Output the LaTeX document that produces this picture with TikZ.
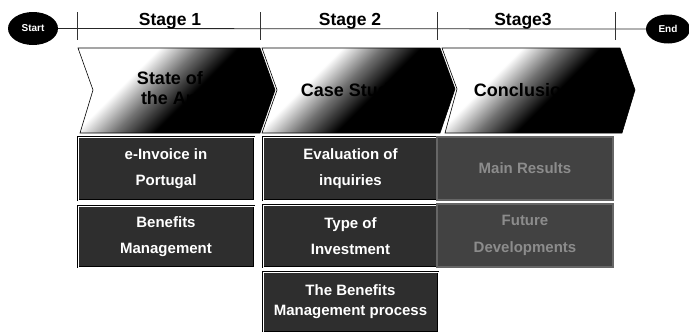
\documentclass[tikz,border=0pt]{standalone}
\usepackage{fontspec}
\setmainfont{Liberation Sans}
\usetikzlibrary{shapes.geometric}
\pgfdeclareverticalshading{chevshade}{100bp}{color(0bp)=(black); color(45bp)=(black); color(55bp)=(black!55); color(65bp)=(white); color(100bp)=(white)}
\begin{document}
\begin{tikzpicture}[x=1pt,y=-1pt,
  terminal/.style={ellipse, fill=black, text=white, inner sep=0pt,
    font=\bfseries\fontsize{10}{12}\selectfont},
  stagelabel/.style={font=\bfseries\fontsize{17.5}{18}\selectfont, anchor=base, inner sep=0pt},
  tick/.style={line width=0.8pt, black!80},
  tline/.style={line width=0.8pt, black!85},
  chevron/.style={shading=chevshade, shading angle=45, draw=black, line width=0.6pt},
  chevtext/.style={font=\bfseries\fontsize{18}{20}\selectfont, text=black, align=center, inner sep=0pt},
  darkbox/.style={rectangle, draw=black, line width=0.9pt, double=white, double distance=0.7pt,
    fill=black!82, text=white, align=center, inner sep=0pt, minimum width=175pt,
    font=\bfseries\fontsize{15}{26}\selectfont},
  blurbox/.style={rectangle, draw=black!60, line width=1.5pt, fill=black!74,
    text=black!45, align=center, inner sep=0pt, minimum width=176pt,
    font=\bfseries\fontsize{15}{27}\selectfont}
]
\useasboundingbox (0,0) rectangle (689,332);

% timeline
\node[terminal, minimum width=50pt, minimum height=33pt] (start) at (33,28.5) {Start};
\node[terminal, minimum width=44pt, minimum height=29pt] (end) at (668,29) {End};
\draw[tline] (start.east) -- (end.west);
\foreach \x/\n in {77/t1, 260/t2, 437/t3, 615/t4} {
  \coordinate (\n a) at (\x,12);
  \coordinate (\n b) at (\x,40);
  \draw[tick] (\n a) -- (\n b);
}
\node[stagelabel] (s1) at (170,25) {Stage 1};
\node[stagelabel] (s2) at (350,25) {Stage 2};
\node[stagelabel] (s3) at (523,25) {Stage3};

% chevrons
\shade[chevron] (78,48) -- (260,48) -- (275,90) -- (260,133) -- (80,133) -- (93,90) -- cycle;
\shade[chevron] (262,48) -- (440,48) -- (455,89) -- (440,133) -- (262,133) -- (277,90) -- cycle;
\shade[chevron] (442,48) -- (620,48) -- (635,90) -- (622,133) -- (445,133) -- (457,89) -- cycle;
\node[chevtext] (c1) at (170,88) {State of\\the Art};
\node[chevtext] (c2) at (350,92) {Case Study};
\node[chevtext] (c3) at (528,90) {Conclusions};

% boxes
\node[darkbox, minimum width=176pt, minimum height=63pt] (b11) at (166,168.5) {e-Invoice in\\Portugal};
\node[darkbox, minimum width=176pt, minimum height=61pt] (b12) at (166,236.5) {Benefits\\Management};
\node[darkbox, minimum height=63pt] (b21) at (350.5,168.5) {Evaluation of\\inquiries};
\node[darkbox, minimum height=62pt] (b22) at (350.5,236) {Type of\\Investment};
\node[darkbox, minimum height=60pt, font=\bfseries\fontsize{15}{20}\selectfont] (b23) at (350.5,302) {The Benefits\\Management process};
\node[blurbox, minimum height=63pt] (b31) at (525,168.5) {Main Results};
\node[blurbox, minimum height=63pt] (b32) at (525,235.5) {Future\\Developments};
\end{tikzpicture}
\end{document}
